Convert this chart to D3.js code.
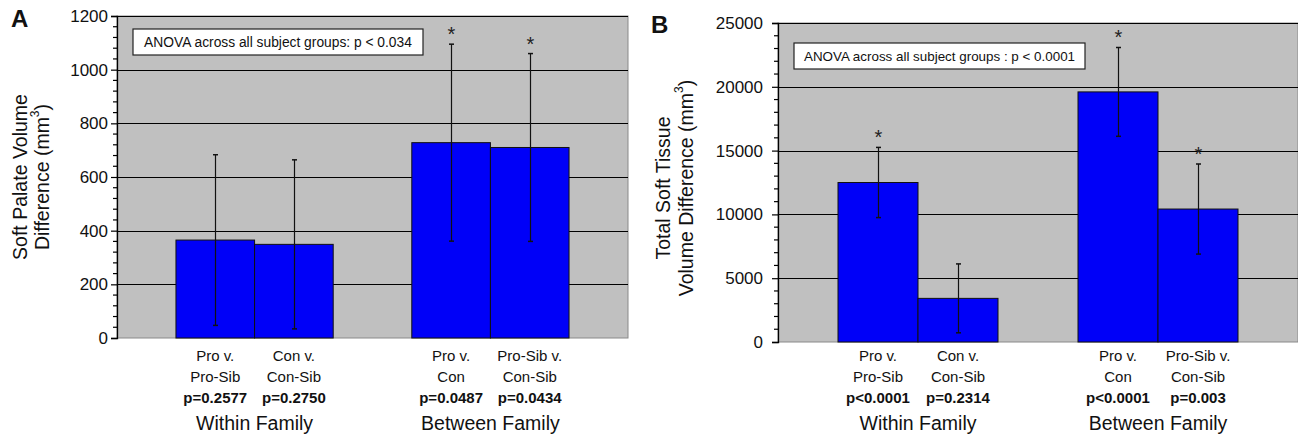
<!DOCTYPE html>
<html lang="en">
<head>
<meta charset="UTF-8">
<title>Soft palate / soft tissue volume differences</title>
<script src="https://cdnjs.cloudflare.com/ajax/libs/d3/7.8.5/d3.min.js"></script>
<style>
    body { margin: 0; background: #fff; }
    svg { display: block; font-family: "Liberation Sans", Arial, sans-serif; }
</style>
</head>
<body>
<div id="chart"></div>
<script>

    // comparisons (two label lines under each bar)
    var labelTop = ["Pro v.", "Con v.", "Pro v.", "Pro-Sib v."];
    var labelBottom = ["Pro-Sib", "Con-Sib", "Con", "Con-Sib"];
    var groups = ["Within Family", "Between Family"];

    // panel A : soft palate
    var meansA = [365, 349, 728, 710];
    var sdA = [318, 315, 367, 350];
    var pA = ["p=0.2577", "p=0.2750", "p=0.0487", "p=0.0434"];
    var starA = [false, false, true, true];
    var ticksA = [0, 200, 400, 600, 800, 1000, 1200];

    // panel B : total soft tissue
    var meansB = [12500, 3420, 19600, 10420];
    var sdB = [2750, 2700, 3480, 3530];
    var pB = ["p<0.0001", "p=0.2314", "p<0.0001", "p=0.003"];
    var starB = [true, false, true, true];
    var ticksB = [0, 5000, 10000, 15000, 20000, 25000];

    var width = 1298, height = 439;

    var svg = d3.select("#chart").append("svg")
        .attr("width", width)
        .attr("height", height);

    function drawPanel(cfg) {
        var g = svg.append("g");

        var slots = ["c0", "c1", "gap", "c2", "c3"];
        var x = d3.scaleBand().domain(slots)
            .range([cfg.x0, cfg.x1])
            .paddingInner(0).paddingOuter(0.75);
        var barSlot = ["c0", "c1", "c2", "c3"];

        var y = d3.scaleLinear().domain([0, cfg.max]).range([cfg.y0, cfg.yTop]);

        // plot area
        g.append("rect")
            .attr("x", cfg.x0).attr("y", cfg.yTop)
            .attr("width", cfg.x1 - cfg.x0).attr("height", cfg.y0 - cfg.yTop)
            .attr("fill", "#c0c0c0")
            .attr("stroke", "#8a8a8a").attr("stroke-width", 1);

        // gridlines
        g.selectAll(".grid").data(cfg.ticks.slice(1))
            .enter().append("line")
            .attr("x1", cfg.x0).attr("x2", cfg.x1)
            .attr("y1", function(d){ return Math.round(y(d)) + 0.5; })
            .attr("y2", function(d){ return Math.round(y(d)) + 0.5; })
            .attr("stroke", "#000").attr("stroke-width", 1.2);

        // bars
        g.selectAll(".bar").data(cfg.means)
            .enter().append("rect")
            .attr("x", function(d, i){ return x(barSlot[i]); })
            .attr("y", function(d){ return y(d); })
            .attr("width", x.bandwidth())
            .attr("height", function(d){ return cfg.y0 - y(d); })
            .attr("fill", "#0000f8")
            .attr("stroke", "#111").attr("stroke-width", 1);

        // error bars
        cfg.means.forEach(function(m, i){
            var cx = Math.round(x(barSlot[i]) + x.bandwidth() / 2) + 0.5;
            var hi = y(m + cfg.sd[i]), lo = y(Math.max(0, m - cfg.sd[i]));
            g.append("line").attr("x1", cx).attr("x2", cx)
                .attr("y1", hi).attr("y2", lo)
                .attr("stroke", "#111").attr("stroke-width", 1.2);
            [hi, lo].forEach(function(v){
                g.append("line").attr("x1", cx - 2.5).attr("x2", cx + 2.5)
                    .attr("y1", v).attr("y2", v)
                    .attr("stroke", "#111").attr("stroke-width", 1.5);
            });
            if (cfg.star[i]) {
                g.append("text")
                    .attr("x", cx).attr("y", hi - 3)
                    .attr("text-anchor", "middle")
                    .attr("font-size", 20)
                    .attr("fill", "#222")
                    .text("*");
            }
        });

        // y axis
        var yAxis = d3.axisLeft(y).tickValues(cfg.ticks).tickSize(6).tickPadding(cfg.pad)
            .tickFormat(d3.format("d"));
        var ax = g.append("g").attr("transform", "translate(" + cfg.x0 + ",0)").call(yAxis);
        ax.select(".domain").attr("stroke", "#000").attr("stroke-width", 1.3);
        ax.selectAll(".tick line").attr("stroke", "#000").attr("stroke-width", 1.2);
        ax.selectAll(".tick text").attr("font-size", 17).attr("fill", "#111")
            .attr("font-family", "Liberation Sans, Arial, sans-serif");
        // minor ticks
        var minor = d3.range(0, cfg.max + 1, cfg.minor).filter(function(v){ return cfg.ticks.indexOf(v) < 0; });
        g.selectAll(".minor").data(minor).enter().append("line")
            .attr("x1", cfg.x0 - 4).attr("x2", cfg.x0)
            .attr("y1", function(d){ return y(d); })
            .attr("y2", function(d){ return y(d); })
            .attr("stroke", "#000").attr("stroke-width", 1.2);

        // y title
        var tl = cfg.title;
        g.append("text")
            .attr("transform", "translate(" + tl.x1 + "," + tl.cy + ") rotate(-90)")
            .attr("text-anchor", "middle").attr("dominant-baseline", "central")
            .attr("font-size", 19.5).attr("fill", "#111")
            .text(tl.line1);
        var t2 = g.append("text")
            .attr("transform", "translate(" + tl.x2 + "," + tl.cy + ") rotate(-90)")
            .attr("text-anchor", "middle").attr("dominant-baseline", "central")
            .attr("font-size", 19.5).attr("fill", "#111");
        t2.append("tspan").text(tl.line2 + " (mm");
        t2.append("tspan").attr("font-size", 12).attr("dy", -7).text("3");
        t2.append("tspan").attr("dy", 7).text(")");

        // panel letter
        g.append("text")
            .attr("x", cfg.letterX).attr("y", cfg.letterY)
            .attr("font-size", 24).attr("font-weight", "bold").attr("fill", "#111")
            .text(cfg.letter);

        // anova box
        var b = cfg.box;
        g.append("rect")
            .attr("x", b.x).attr("y", b.y).attr("width", b.w).attr("height", b.h)
            .attr("fill", "#fff").attr("stroke", "#222").attr("stroke-width", 1.2);
        g.append("text")
            .attr("x", b.x + b.w / 2).attr("y", b.y + b.h / 2)
            .attr("text-anchor", "middle").attr("dominant-baseline", "central")
            .attr("font-size", b.fs).attr("fill", "#111")
            .text(b.text);

        // category labels
        barSlot.forEach(function(s, i){
            var cx = x(s) + x.bandwidth() / 2;
            g.append("text").attr("x", cx).attr("y", 361)
                .attr("text-anchor", "middle").attr("font-size", 15).attr("fill", "#111")
                .text(labelTop[i]);
            g.append("text").attr("x", cx).attr("y", 382)
                .attr("text-anchor", "middle").attr("font-size", 15).attr("fill", "#111")
                .text(labelBottom[i]);
            g.append("text").attr("x", cx).attr("y", 403)
                .attr("text-anchor", "middle").attr("font-size", 15)
                .attr("font-weight", "bold").attr("fill", "#111")
                .text(cfg.p[i]);
        });
        groups.forEach(function(name, k){
            var cx = x(barSlot[k * 2 + 1]);
            g.append("text").attr("x", cx).attr("y", 430)
                .attr("text-anchor", "middle").attr("font-size", 19.5).attr("fill", "#111")
                .text(name);
        });
    }

    drawPanel({
        x0: 117, x1: 628, yTop: 16, y0: 338, max: 1200, minor: 40,
        ticks: ticksA, pad: 3,
        means: meansA, sd: sdA, p: pA, star: starA,
        title: {x1: 20, x2: 42, cy: 177, line1: "Soft Palate Volume", line2: "Difference"},
        letter: "A", letterX: 11, letterY: 27,
        box: {x: 133, y: 29, w: 290, h: 26, fs: 13.8, text: "ANOVA across all subject groups: p < 0.034"}
    });

    drawPanel({
        x0: 778, x1: 1298, yTop: 23, y0: 342, max: 25000, minor: 1000,
        ticks: ticksB, pad: 9,
        means: meansB, sd: sdB, p: pB, star: starB,
        title: {x1: 663, x2: 686, cy: 188, line1: "Total Soft Tissue", line2: "Volume Difference"},
        letter: "B", letterX: 651, letterY: 33,
        box: {x: 794, y: 43, w: 291, h: 26, fs: 13.4, text: "ANOVA across all subject groups : p < 0.0001"}
    });

</script>
</body>
</html>
